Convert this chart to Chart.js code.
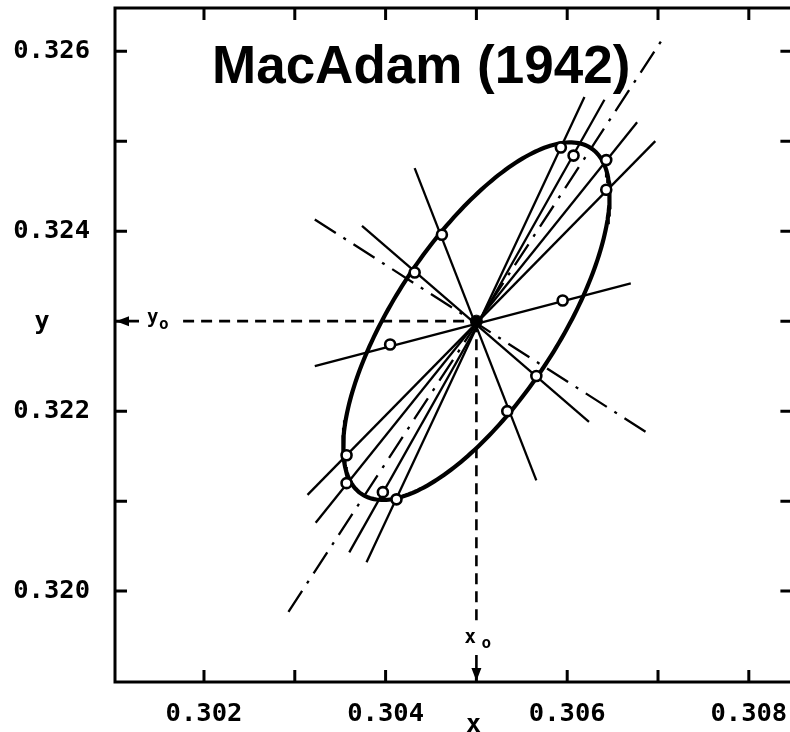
<!DOCTYPE html>
<html>
<head>
<meta charset="utf-8">
<title>MacAdam (1942)</title>
<script src="https://cdn.jsdelivr.net/npm/chart.js@4/dist/chart.umd.min.js"></script>
<style>
  html, body { margin: 0; padding: 0; background: #fff; overflow: hidden; }
  canvas { display: block; }
</style>
</head>
<body>
<canvas id="macadam" width="800" height="732"></canvas>
<script>
// colour centre (x0, y0)
const CENTER_X = 0.305;
const CENTER_Y = 0.323;

// fitted ellipse: semi-axes and tilt of the major axis (degrees)
const ELLIPSE_A = 0.0023;
const ELLIPSE_B = 0.0009;
const ELLIPSE_ANGLE = 56.8;

// standard deviations of colour matching (open circles)
const obsX = [0.30593, 0.30607, 0.30643, 0.30643, 0.30462, 0.30432, 0.30595,
              0.30405, 0.30566, 0.30534, 0.30357, 0.30357, 0.30397, 0.30412];
const obsY = [0.32493, 0.32484, 0.32479, 0.32446, 0.32396, 0.32354, 0.32323,
              0.32274, 0.32239, 0.32200, 0.32151, 0.32120, 0.32110, 0.32102];

// matching directions through the centre, [x, y] at each end
const rayFrom = [[0.30432, 0.32470], [0.30374, 0.32406], [0.30322, 0.32250],
                 [0.30379, 0.32032], [0.30360, 0.32043], [0.30323, 0.32076], [0.30314, 0.32107]];
const rayTo   = [[0.30566, 0.32123], [0.30624, 0.32188], [0.30670, 0.32342],
                 [0.30619, 0.32549], [0.30641, 0.32546], [0.30677, 0.32521], [0.30697, 0.32500]];

// principal axes of the ellipse (dash-dot)
const majorAxis = [[0.30293, 0.31977], [0.30704, 0.32612]];
const minorAxis = [[0.30322, 0.32413], [0.30688, 0.32176]];

// dashed guides from the axes to the centre
const guideY0 = [[0.30177, CENTER_Y], [CENTER_X, CENTER_Y]];
const guideX0 = [[CENTER_X, CENTER_Y], [CENTER_X, 0.31960]];

const X_TICKS = [0.302, 0.303, 0.304, 0.305, 0.306, 0.307, 0.308];
const X_LABELS = ['0.302', '', '0.304', '', '0.306', '', '0.308'];
const Y_TICKS = [0.320, 0.321, 0.322, 0.323, 0.324, 0.325, 0.326];
const Y_LABELS = ['0.320', '', '0.322', '', '0.324', '', '0.326'];

const MONO = '"DejaVu Sans Mono", monospace';
const toPts = pairs => pairs.map(p => ({ x: p[0], y: p[1] }));

// outline of the ellipse from centre, semi-axes and tilt
function ellipseOutline() {
  const t = ELLIPSE_ANGLE * Math.PI / 180;
  const pts = [];
  for (let i = 0; i <= 240; i++) {
    const s = i / 240 * 2 * Math.PI;
    const u = ELLIPSE_A * Math.cos(s), v = ELLIPSE_B * Math.sin(s);
    pts.push({ x: CENTER_X + u * Math.cos(t) - v * Math.sin(t),
               y: CENTER_Y + u * Math.sin(t) + v * Math.cos(t) });
  }
  return pts;
}

function segment(pts, width, dash) {
  return { data: pts, showLine: true, borderColor: '#000', borderWidth: width,
           borderDash: dash || [], pointRadius: 0, tension: 0, fill: false };
}

const datasets = [
  { data: obsX.map((x, i) => ({ x, y: obsY[i] })), pointRadius: 5, pointBorderWidth: 2.6,
    pointBackgroundColor: '#fff', pointBorderColor: '#000', showLine: false },
  { data: [{ x: CENTER_X, y: CENTER_Y }], pointRadius: 6, pointBackgroundColor: '#000',
    pointBorderColor: '#000', pointBorderWidth: 1, showLine: false },
  segment(ellipseOutline(), 4.2),
  ...rayFrom.map((p, i) => segment(toPts([p, rayTo[i]]), 2.3)),
  segment(toPts(majorAxis), 2.3, [25, 9, 3, 9]),
  segment(toPts(minorAxis), 2.3, [25, 9, 3, 9]),
  segment(toPts(guideY0), 2.6, [11, 7]),
  segment(toPts(guideX0), 2.6, [11, 7])
];

// keep the plot box where the layout puts it, labels hang outside
function noLabelPadding(s) {
  s.paddingTop = 0; s.paddingBottom = 0; s.paddingLeft = 0; s.paddingRight = 0;
}

// box with inward ticks, arrows and the text inside the plot
const framePlugin = {
  id: 'frame',
  afterDraw(chart) {
    const { ctx, chartArea: a, scales: { x, y } } = chart;
    const px0 = x.getPixelForValue(CENTER_X);
    const py0 = y.getPixelForValue(CENTER_Y);
    ctx.save();
    ctx.strokeStyle = '#000';
    ctx.fillStyle = '#000';
    ctx.lineWidth = 3;
    ctx.strokeRect(a.left, a.top, a.right - a.left, a.bottom - a.top);

    ctx.beginPath();
    X_TICKS.forEach(v => {
      const p = x.getPixelForValue(v);
      ctx.moveTo(p, a.bottom); ctx.lineTo(p, a.bottom - 12);
      ctx.moveTo(p, a.top); ctx.lineTo(p, a.top + 12);
    });
    Y_TICKS.forEach(v => {
      const p = y.getPixelForValue(v);
      ctx.moveTo(a.left, p); ctx.lineTo(a.left + 12, p);
      ctx.moveTo(a.right, p); ctx.lineTo(a.right - 12, p);
    });
    ctx.stroke();

    // arrows onto the axes
    ctx.lineWidth = 2.6;
    ctx.beginPath();
    ctx.moveTo(a.left + 12, py0); ctx.lineTo(a.left + 24, py0);
    ctx.moveTo(px0, a.bottom - 12); ctx.lineTo(px0, a.bottom - 27);
    ctx.stroke();
    ctx.beginPath();
    ctx.moveTo(a.left + 1, py0); ctx.lineTo(a.left + 14, py0 - 5); ctx.lineTo(a.left + 14, py0 + 5);
    ctx.closePath();
    ctx.moveTo(px0, a.bottom - 1); ctx.lineTo(px0 - 5, a.bottom - 14); ctx.lineTo(px0 + 5, a.bottom - 14);
    ctx.closePath();
    ctx.fill();

    // x0 / y0 markers
    ctx.textBaseline = 'alphabetic';
    ctx.textAlign = 'left';
    ctx.font = 'bold 19px ' + MONO;
    ctx.fillText('y', a.left + 32, py0 + 2);
    ctx.fillText('x', px0 - 12, a.bottom - 39);
    ctx.font = 'bold 16px ' + MONO;
    ctx.fillText('o', a.left + 44, py0 + 8);
    ctx.fillText('o', px0 + 5, a.bottom - 34);

    // axis names
    ctx.font = 'bold 25px ' + MONO;
    ctx.textAlign = 'center';
    ctx.fillText('y', a.left - 73, py0 + 8);
    ctx.fillText('x', px0 - 3, a.bottom + 50);

    // heading
    ctx.font = 'bold 53px "Liberation Sans", Arial, sans-serif';
    ctx.textAlign = 'left';
    ctx.fillText('MacAdam (1942)', a.left + 97, a.top + 75);
    ctx.restore();
  }
};

const tickFont = { family: MONO, size: 25.5, weight: 'bold' };

new Chart(document.getElementById('macadam'), {
  type: 'scatter',
  data: { datasets },
  options: {
    responsive: false,
    animation: false,
    events: [],
    layout: { padding: { top: 8, right: 6, left: 0, bottom: 0 } },
    plugins: { legend: { display: false }, tooltip: { enabled: false } },
    scales: {
      x: {
        type: 'linear',
        min: 0.30102,
        max: 0.30848,
        afterFit: s => { s.height = 50; noLabelPadding(s); },
        afterBuildTicks: s => { s.ticks = X_TICKS.map(v => ({ value: v })); },
        grid: { display: false, drawTicks: false },
        border: { display: false },
        ticks: { padding: 17, color: '#000', font: tickFont, maxRotation: 0,
                 autoSkip: false, callback: (v, i) => X_LABELS[i] }
      },
      y: {
        type: 'linear',
        min: 0.31899,
        max: 0.32648,
        afterFit: s => { s.width = 115; noLabelPadding(s); },
        afterBuildTicks: s => { s.ticks = Y_TICKS.map(v => ({ value: v })); },
        grid: { display: false, drawTicks: false },
        border: { display: false },
        ticks: { padding: 25, color: '#000', font: tickFont,
                 autoSkip: false, callback: (v, i) => Y_LABELS[i] }
      }
    }
  },
  plugins: [framePlugin]
});
</script>
</body>
</html>
